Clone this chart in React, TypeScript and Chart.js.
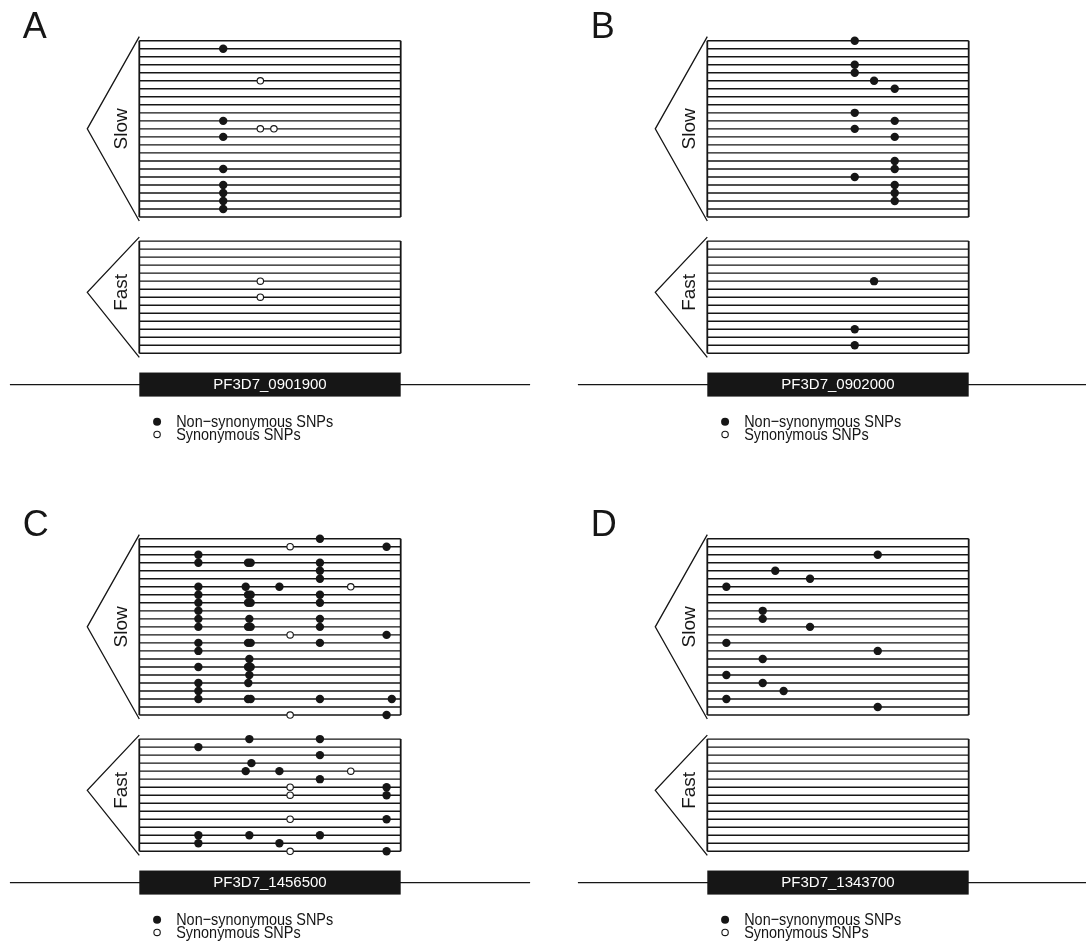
import React, { useEffect, useRef } from 'react';
import { Chart, registerables } from 'chart.js';

Chart.register(...registerables);

type Pt = [number, number]; // [position along gene (0-100), sample row]

const SLOW_ROWS = 23;
const FAST_ROWS = 15;
const FAST_OFFSET = 25;

const LEGEND_LABELS = ['Non\u2212synonymous SNPs', 'Synonymous SNPs'];
const GROUP_LABELS = ['Slow', 'Fast'];

// Panel A
const A_LETTER = 'A';
const A_GENE = 'PF3D7_0901900';
const A_SLOW_NONSYN: Pt[] = [[32.1, 1], [32.1, 10], [32.1, 12], [32.1, 16], [32.1, 18], [32.1, 19], [32.1, 20], [32.1, 21]];
const A_SLOW_SYN: Pt[] = [[46.3, 5], [46.3, 11], [51.5, 11]];
const A_FAST_NONSYN: Pt[] = [];
const A_FAST_SYN: Pt[] = [[46.3, 5], [46.3, 7]];

// Panel B
const B_LETTER = 'B';
const B_GENE = 'PF3D7_0902000';
const B_SLOW_NONSYN: Pt[] = [
  [56.4, 0], [56.4, 3], [56.4, 4], [56.4, 9], [56.4, 11], [56.4, 17],
  [63.8, 5],
  [71.7, 6], [71.7, 10], [71.7, 12], [71.7, 15], [71.7, 16], [71.7, 18], [71.7, 19], [71.7, 20],
];
const B_SLOW_SYN: Pt[] = [];
const B_FAST_NONSYN: Pt[] = [[63.8, 5], [56.4, 11], [56.4, 13]];
const B_FAST_SYN: Pt[] = [];

// Panel C
const C_LETTER = 'C';
const C_GENE = 'PF3D7_1456500';
const C_SLOW_NONSYN: Pt[] = [
  [69.1, 0], [94.6, 1], [22.6, 2],
  [22.6, 3], [41.6, 3], [42.6, 3], [69.1, 3],
  [69.1, 4], [69.1, 5],
  [22.6, 6], [40.7, 6], [53.6, 6],
  [22.6, 7], [41.6, 7], [42.6, 7], [69.1, 7],
  [22.6, 8], [41.6, 8], [42.6, 8], [69.1, 8],
  [22.6, 9],
  [22.6, 10], [42.1, 10], [69.1, 10],
  [22.6, 11], [41.6, 11], [42.6, 11], [69.1, 11],
  [94.6, 12],
  [22.6, 13], [41.6, 13], [42.6, 13], [69.1, 13],
  [22.6, 14],
  [42.1, 15],
  [22.6, 16], [41.6, 16], [42.6, 16],
  [42.1, 17],
  [22.6, 18], [41.7, 18],
  [22.6, 19],
  [22.6, 20], [41.6, 20], [42.6, 20], [69.1, 20], [96.6, 20],
  [94.6, 22],
];
const C_SLOW_SYN: Pt[] = [[57.7, 1], [80.9, 6], [57.7, 12], [57.7, 22]];
const C_FAST_NONSYN: Pt[] = [
  [42.1, 0], [69.1, 0], [22.6, 1], [69.1, 2], [42.9, 3],
  [40.7, 4], [53.6, 4], [69.1, 5],
  [94.6, 6], [94.6, 7], [94.6, 10],
  [22.6, 12], [42.1, 12], [69.1, 12],
  [22.6, 13], [53.6, 13], [94.6, 14],
];
const C_FAST_SYN: Pt[] = [[80.9, 4], [57.7, 6], [57.7, 7], [57.7, 10], [57.7, 14]];

// Panel D
const D_LETTER = 'D';
const D_GENE = 'PF3D7_1343700';
const D_SLOW_NONSYN: Pt[] = [
  [65.2, 2], [65.2, 14], [65.2, 21],
  [26.0, 4],
  [39.3, 5], [39.3, 11],
  [7.3, 6], [7.3, 13], [7.3, 17], [7.3, 20],
  [21.2, 9], [21.2, 10], [21.2, 15], [21.2, 18],
  [29.2, 19],
];
const D_SLOW_SYN: Pt[] = [];
const D_FAST_NONSYN: Pt[] = [];
const D_FAST_SYN: Pt[] = [];

interface PanelSpec {
  letter: string;
  gene: string;
  slowNon: Pt[];
  slowSyn: Pt[];
  fastNon: Pt[];
  fastSyn: Pt[];
  left: number;
  top: number;
  width: number;
  height: number;
}

const PANELS: PanelSpec[] = [
  { letter: A_LETTER, gene: A_GENE, slowNon: A_SLOW_NONSYN, slowSyn: A_SLOW_SYN, fastNon: A_FAST_NONSYN, fastSyn: A_FAST_SYN, left: 0, top: 0, width: 568, height: 498 },
  { letter: B_LETTER, gene: B_GENE, slowNon: B_SLOW_NONSYN, slowSyn: B_SLOW_SYN, fastNon: B_FAST_NONSYN, fastSyn: B_FAST_SYN, left: 568, top: 0, width: 518, height: 498 },
  { letter: C_LETTER, gene: C_GENE, slowNon: C_SLOW_NONSYN, slowSyn: C_SLOW_SYN, fastNon: C_FAST_NONSYN, fastSyn: C_FAST_SYN, left: 0, top: 498, width: 568, height: 448 },
  { letter: D_LETTER, gene: D_GENE, slowNon: D_SLOW_NONSYN, slowSyn: D_SLOW_SYN, fastNon: D_FAST_NONSYN, fastSyn: D_FAST_SYN, left: 568, top: 498, width: 518, height: 448 },
];

const INK = '#161616';
const FONT = '"Liberation Sans", Arial, Helvetica, sans-serif';

const BOX_LEFT = 139.3;
const BOX_RIGHT = 400.7;
const BOX_TOP = 40.7;
const BOX_BOTTOM = 353.3;

const decorPlugin = (spec: PanelSpec) => ({
  id: 'decor' + spec.letter,
  beforeDatasetsDraw(chart: any) {
    const { ctx } = chart;
    const xs = chart.scales.x;
    const ys = chart.scales.y;
    const X = (v: number) => xs.getPixelForValue(v);
    const Y = (v: number) => ys.getPixelForValue(v);
    ctx.save();
    ctx.strokeStyle = INK;
    ctx.lineWidth = 1.4;
    const groups = [
      { start: 0, n: SLOW_ROWS, triTop: -0.5, apex: 11, triBot: 22.5, label: GROUP_LABELS[0] },
      { start: FAST_OFFSET, n: FAST_ROWS, triTop: FAST_OFFSET - 0.5, apex: FAST_OFFSET + 6.4, triBot: FAST_OFFSET + FAST_ROWS - 0.5, label: GROUP_LABELS[1] },
    ];
    for (const g of groups) {
      ctx.lineWidth = 1.4;
      ctx.beginPath();
      for (let i = 0; i < g.n; i++) {
        const y = Y(g.start + i);
        ctx.moveTo(X(0), y);
        ctx.lineTo(X(100), y);
      }
      ctx.stroke();
      ctx.lineWidth = 1.8;
      ctx.beginPath();
      ctx.moveTo(X(0), Y(g.start));
      ctx.lineTo(X(0), Y(g.start + g.n - 1));
      ctx.moveTo(X(100), Y(g.start));
      ctx.lineTo(X(100), Y(g.start + g.n - 1));
      ctx.stroke();
      ctx.lineWidth = 1.3;
      ctx.beginPath();
      ctx.moveTo(X(0), Y(g.triTop));
      ctx.lineTo(X(-19.9), Y(g.apex));
      ctx.lineTo(X(0), Y(g.triBot));
      ctx.stroke();
      // group label
      ctx.save();
      ctx.translate(X(-6.6), Y(g.apex));
      ctx.rotate(-Math.PI / 2);
      ctx.fillStyle = INK;
      ctx.font = `19px ${FONT}`;
      ctx.textAlign = 'center';
      ctx.textBaseline = 'middle';
      ctx.fillText(g.label, 0, 0);
      ctx.restore();
    }
    // gene line and bar
    ctx.lineWidth = 1.2;
    ctx.beginPath();
    ctx.moveTo(X(-49.5), Y(42.9));
    ctx.lineTo(X(149.5), Y(42.9));
    ctx.stroke();
    ctx.fillStyle = INK;
    ctx.fillRect(X(0), Y(41.4), X(100) - X(0), Y(44.4) - Y(41.4));
    ctx.fillStyle = '#ffffff';
    ctx.font = `15px ${FONT}`;
    ctx.textAlign = 'center';
    ctx.textBaseline = 'middle';
    ctx.fillText(spec.gene, X(50), Y(42.95));
    // legend
    ctx.fillStyle = INK;
    ctx.beginPath();
    ctx.arc(X(6.8), Y(47.55), 4, 0, Math.PI * 2);
    ctx.fill();
    ctx.lineWidth = 1.1;
    ctx.beginPath();
    ctx.arc(X(6.8), Y(49.12), 3.2, 0, Math.PI * 2);
    ctx.stroke();
    ctx.font = `17px ${FONT}`;
    ctx.textAlign = 'left';
    ctx.textBaseline = 'alphabetic';
    const squeeze = 0.85;
    ctx.save();
    ctx.translate(X(14.1), 0);
    ctx.scale(squeeze, 1);
    ctx.fillText(LEGEND_LABELS[0], 0, Y(47.55) + 5.5);
    ctx.fillText(LEGEND_LABELS[1], 0, Y(49.12) + 5.5);
    ctx.restore();
    // panel letter
    ctx.font = `36px ${FONT}`;
    ctx.fillText(spec.letter, X(-44.6), Y(-0.3));
    ctx.restore();
  },
});

function Panel({ spec }: { spec: PanelSpec }) {
  const ref = useRef<HTMLCanvasElement | null>(null);
  useEffect(() => {
    if (!ref.current) return;
    const toXY = (pts: Pt[], offset: number) => pts.map(([x, y]) => ({ x, y: y + offset }));
    const nonStyle = {
      pointRadius: 4.2,
      pointBackgroundColor: INK,
      pointBorderColor: INK,
      pointBorderWidth: 0,
      pointHoverRadius: 4.2,
      clip: false as any,
    };
    const synStyle = {
      pointRadius: 3.2,
      pointBackgroundColor: '#ffffff',
      pointBorderColor: INK,
      pointBorderWidth: 1.1,
      pointHoverRadius: 3.2,
      clip: false as any,
    };
    const chart = new Chart(ref.current, {
      type: 'scatter',
      data: {
        datasets: [
          { label: 'slowNon', data: toXY(spec.slowNon, 0), ...nonStyle },
          { label: 'fastNon', data: toXY(spec.fastNon, FAST_OFFSET), ...nonStyle },
          { label: 'slowSyn', data: toXY(spec.slowSyn, 0), ...synStyle },
          { label: 'fastSyn', data: toXY(spec.fastSyn, FAST_OFFSET), ...synStyle },
        ],
      },
      options: {
        animation: false,
        responsive: false,
        devicePixelRatio: 1,
        events: [],
        layout: {
          padding: {
            left: BOX_LEFT,
            right: spec.width - BOX_RIGHT,
            top: BOX_TOP,
            bottom: spec.height - BOX_BOTTOM,
          },
        },
        plugins: { legend: { display: false }, tooltip: { enabled: false } },
        scales: {
          x: { type: 'linear', min: 0, max: 100, display: false },
          y: { type: 'linear', min: 0, max: FAST_OFFSET + FAST_ROWS - 1, reverse: true, display: false },
        },
      },
      plugins: [decorPlugin(spec)],
    });
    return () => chart.destroy();
  }, [spec]);
  return (
    <canvas
      ref={ref}
      width={spec.width}
      height={spec.height}
      style={{ position: 'absolute', left: spec.left, top: spec.top, width: spec.width, height: spec.height }}
    />
  );
}

export default function App() {
  return (
    <div style={{ position: 'fixed', left: 0, top: 0, width: 1086, height: 946, overflow: 'hidden', background: '#ffffff' }}>
      {PANELS.map((p) => (
        <Panel key={p.letter} spec={p} />
      ))}
    </div>
  );
}
